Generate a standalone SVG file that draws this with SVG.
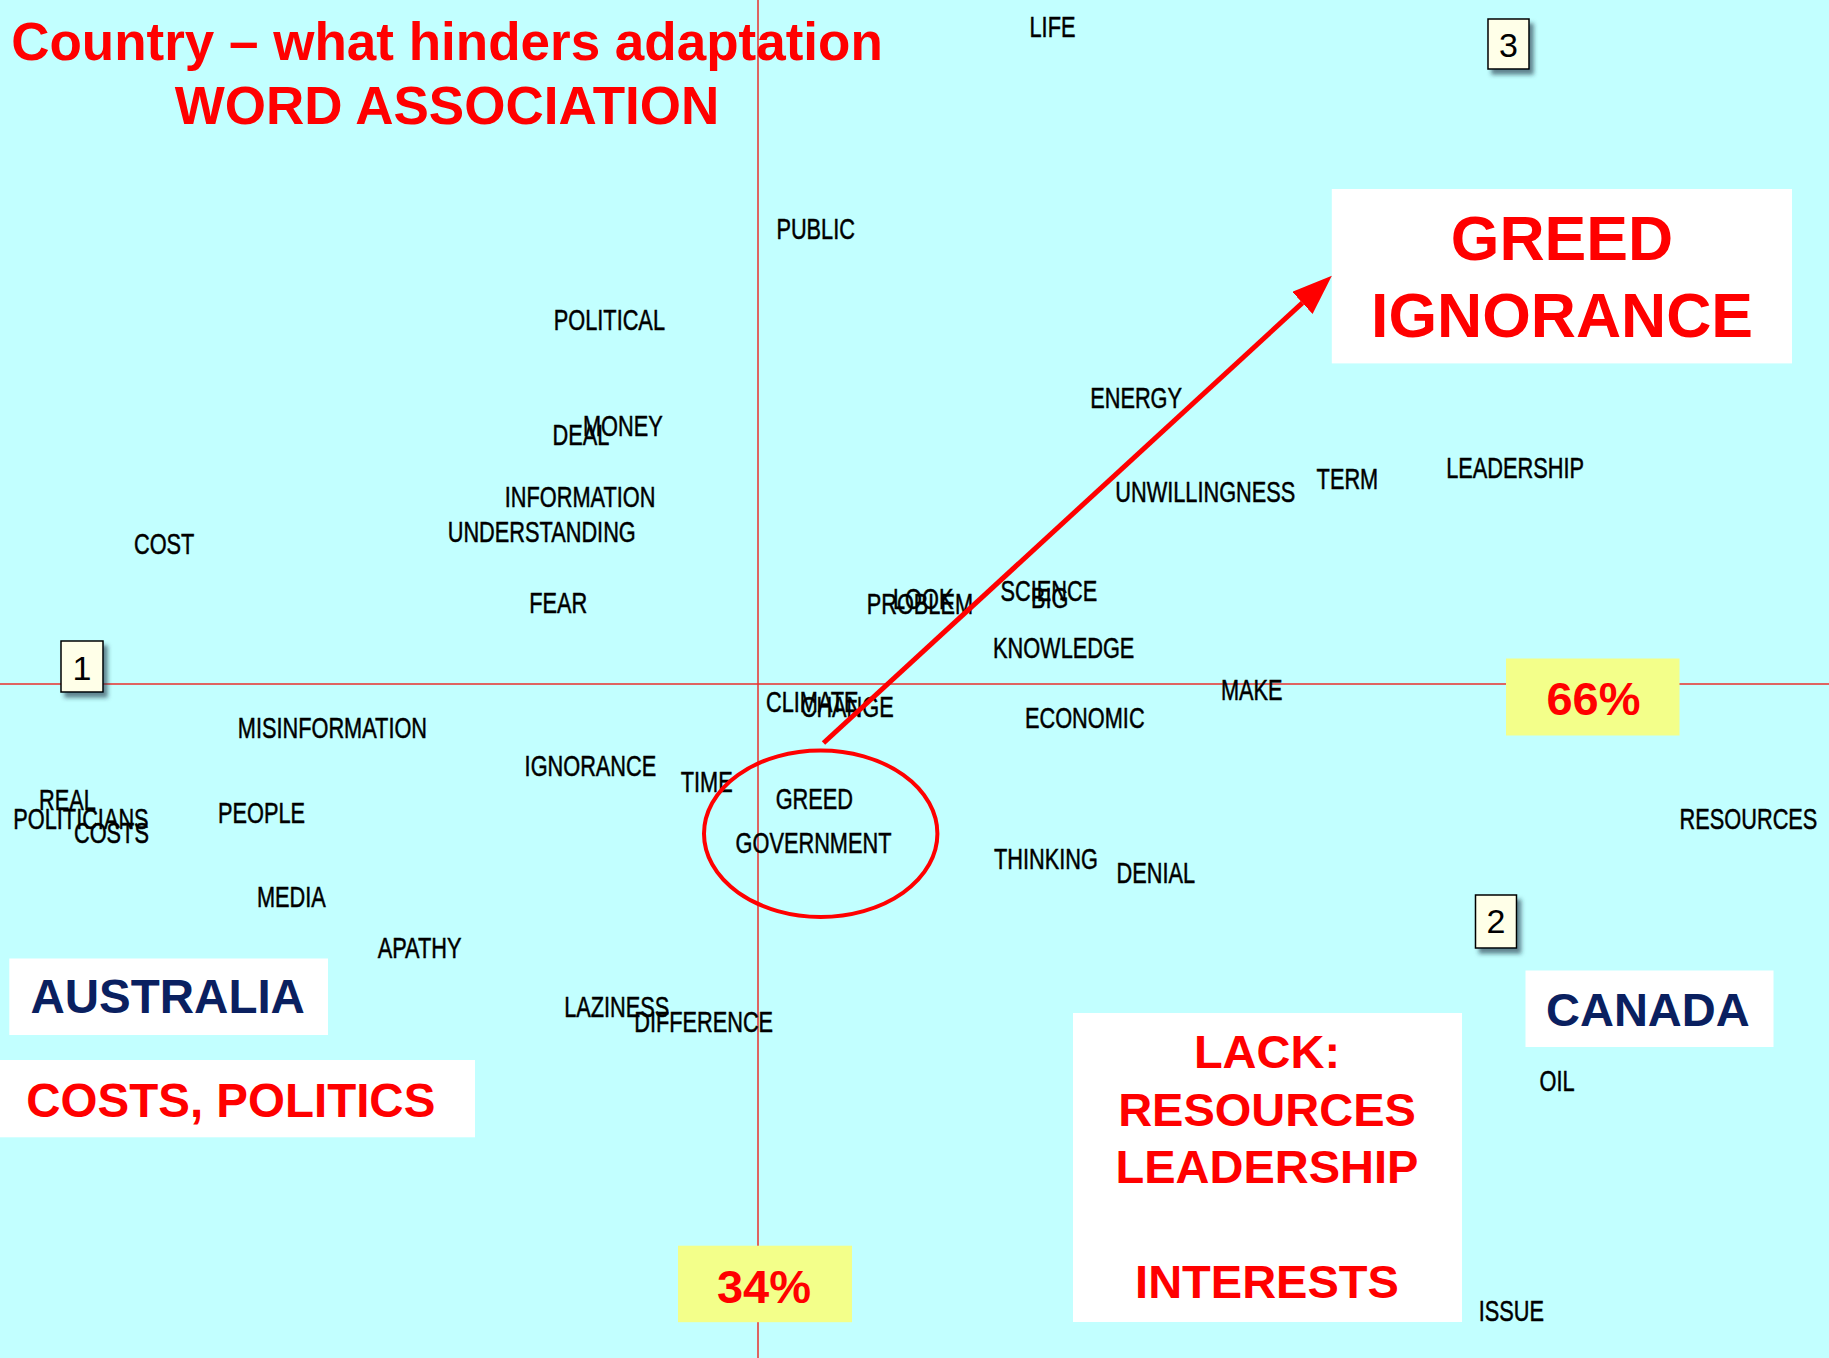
<svg xmlns="http://www.w3.org/2000/svg" width="1829" height="1358" viewBox="0 0 1829 1358">
<defs>
<style>
.lbl{font-family:"Liberation Sans",Arial,sans-serif;font-size:29px;fill:#000;stroke:#000;stroke-width:0.5}
.ttl{font-family:"Liberation Sans",Arial,sans-serif;font-weight:bold;fill:#ff0000}
.nav{font-family:"Liberation Sans",Arial,sans-serif;font-weight:bold;fill:#0a2060}
.wbox{fill:#ffffff}
.ybox{fill:#f3ff8a}
.nbox{fill:#ffffe8;stroke:#000;stroke-width:1.5;filter:url(#sh)}
.num{font-family:"Liberation Sans",Arial,sans-serif;font-size:34px;fill:#000;text-anchor:middle}
.axis{stroke:#e8302c;stroke-width:1.5}
</style>
<filter id="sh" x="-30%" y="-30%" width="160%" height="160%">
<feDropShadow dx="4" dy="5" stdDeviation="2" flood-color="#223344" flood-opacity="0.6"/>
</filter>
<marker id="ah" markerWidth="8" markerHeight="6" refX="0" refY="3" orient="auto" markerUnits="strokeWidth">
<path d="M0,0 L8,3 L0,6 z" fill="#ff0000"/>
</marker>
</defs>
<rect x="0" y="0" width="1829" height="1358" fill="#c2ffff"/>
<g id="axes">
<line class="axis" x1="758" y1="0" x2="758" y2="1358"/>
<line class="axis" x1="0" y1="684" x2="1829" y2="684"/>
</g>
<g id="title">
<text class="ttl" x="447" y="60" font-size="53" text-anchor="middle">Country – what hinders adaptation</text>
<text class="ttl" x="447" y="123.5" font-size="53" text-anchor="middle">WORD ASSOCIATION</text>
</g>
<g id="labels">
<g id="w-life"><text class="lbl" transform="translate(1029.5 36.5) scale(0.75 1)">LIFE</text></g>
<g id="w-public"><text class="lbl" transform="translate(776.4 239.4) scale(0.75 1)">PUBLIC</text></g>
<g id="w-political"><text class="lbl" transform="translate(553.8 329.6) scale(0.75 1)">POLITICAL</text></g>
<g id="w-deal"><text class="lbl" transform="translate(552.6 444.5) scale(0.75 1)">DEAL</text></g>
<g id="w-money"><text class="lbl" transform="translate(583 436) scale(0.75 1)">MONEY</text></g>
<g id="w-information"><text class="lbl" transform="translate(504.8 506.6) scale(0.75 1)">INFORMATION</text></g>
<g id="w-understanding"><text class="lbl" transform="translate(447.7 542) scale(0.75 1)">UNDERSTANDING</text></g>
<g id="w-cost"><text class="lbl" transform="translate(134 554.3) scale(0.75 1)">COST</text></g>
<g id="w-fear"><text class="lbl" transform="translate(529.3 612.8) scale(0.75 1)">FEAR</text></g>
<g id="w-energy"><text class="lbl" transform="translate(1090.2 407.7) scale(0.75 1)">ENERGY</text></g>
<g id="w-unwillingness"><text class="lbl" transform="translate(1115.3 502.2) scale(0.75 1)">UNWILLINGNESS</text></g>
<g id="w-term"><text class="lbl" transform="translate(1316.6 489.2) scale(0.75 1)">TERM</text></g>
<g id="w-leadership"><text class="lbl" transform="translate(1446.2 478) scale(0.75 1)">LEADERSHIP</text></g>
<g id="w-problem"><text class="lbl" transform="translate(866.7 614) scale(0.75 1)">PROBLEM</text></g>
<g id="w-look"><text class="lbl" transform="translate(893 609) scale(0.75 1)">LOOK</text></g>
<g id="w-science"><text class="lbl" transform="translate(1000.5 601) scale(0.75 1)">SCIENCE</text></g>
<g id="w-big"><text class="lbl" transform="translate(1031 608) scale(0.75 1)">BIG</text></g>
<g id="w-knowledge"><text class="lbl" transform="translate(993 658.4) scale(0.75 1)">KNOWLEDGE</text></g>
<g id="w-make"><text class="lbl" transform="translate(1221 700) scale(0.75 1)">MAKE</text></g>
<g id="w-climate"><text class="lbl" transform="translate(766 711.7) scale(0.75 1)">CLIMATE</text></g>
<g id="w-change"><text class="lbl" transform="translate(800.7 716.7) scale(0.75 1)">CHANGE</text></g>
<g id="w-economic"><text class="lbl" transform="translate(1025 728.4) scale(0.75 1)">ECONOMIC</text></g>
<g id="w-misinformation"><text class="lbl" transform="translate(237.8 737.5) scale(0.75 1)">MISINFORMATION</text></g>
<g id="w-ignorance"><text class="lbl" transform="translate(524.6 776) scale(0.75 1)">IGNORANCE</text></g>
<g id="w-time"><text class="lbl" transform="translate(680.8 791.6) scale(0.75 1)">TIME</text></g>
<g id="w-greed"><text class="lbl" transform="translate(775.7 809.3) scale(0.75 1)">GREED</text></g>
<g id="w-government"><text class="lbl" transform="translate(735.6 853) scale(0.75 1)">GOVERNMENT</text></g>
<g id="w-real"><text class="lbl" transform="translate(39 810) scale(0.75 1)">REAL</text></g>
<g id="w-politicians"><text class="lbl" transform="translate(13.3 829.3) scale(0.75 1)">POLITICIANS</text></g>
<g id="w-costs"><text class="lbl" transform="translate(74 843.3) scale(0.75 1)">COSTS</text></g>
<g id="w-people"><text class="lbl" transform="translate(218 823.3) scale(0.75 1)">PEOPLE</text></g>
<g id="w-resources"><text class="lbl" transform="translate(1679.6 829.2) scale(0.75 1)">RESOURCES</text></g>
<g id="w-thinking"><text class="lbl" transform="translate(994 868.5) scale(0.75 1)">THINKING</text></g>
<g id="w-denial"><text class="lbl" transform="translate(1116.5 883.2) scale(0.75 1)">DENIAL</text></g>
<g id="w-media"><text class="lbl" transform="translate(257 907) scale(0.75 1)">MEDIA</text></g>
<g id="w-apathy"><text class="lbl" transform="translate(377.7 957.6) scale(0.75 1)">APATHY</text></g>
<g id="w-laziness"><text class="lbl" transform="translate(564.2 1017.3) scale(0.75 1)">LAZINESS</text></g>
<g id="w-difference"><text class="lbl" transform="translate(634.2 1032.4) scale(0.75 1)">DIFFERENCE</text></g>
<g id="w-oil"><text class="lbl" transform="translate(1539.5 1090.8) scale(0.75 1)">OIL</text></g>
<g id="w-issue"><text class="lbl" transform="translate(1478.8 1320.8) scale(0.75 1)">ISSUE</text></g>
</g>
<g id="box-1"><rect class="nbox" x="61" y="641" width="42" height="51"/><text class="num" x="82" y="680">1</text></g>
<g id="box-2"><rect class="nbox" x="1475.5" y="895" width="41" height="53"/><text class="num" x="1496" y="933">2</text></g>
<g id="box-3"><rect class="nbox" x="1488" y="19" width="41" height="50"/><text class="num" x="1508.5" y="56.5">3</text></g>
<g id="pct-66"><rect class="ybox" x="1506" y="658.5" width="173.5" height="77"/><text class="ttl" x="1593.5" y="714.5" font-size="47" text-anchor="middle">66%</text></g>
<g id="pct-34"><rect class="ybox" x="678" y="1245.7" width="174" height="76.5"/><text class="ttl" x="764" y="1302.7" font-size="47" text-anchor="middle">34%</text></g>
<g id="australia"><rect class="wbox" x="9.3" y="958.5" width="318.7" height="76.5"/><text class="nav" x="30.5" y="1013" font-size="47.5">AUSTRALIA</text></g>
<g id="costs-politics"><rect class="wbox" x="0" y="1060" width="475" height="77.3"/><text class="ttl" x="26.3" y="1116.7" font-size="47.5">COSTS, POLITICS</text></g>
<g id="canada"><rect class="wbox" x="1525.5" y="970.5" width="248" height="76.5"/><text class="nav" x="1546" y="1026" font-size="47">CANADA</text></g>
<g id="lack"><rect class="wbox" x="1073" y="1013" width="389" height="309"/>
<text class="ttl" x="1267" y="1068.3" font-size="47" text-anchor="middle">LACK:</text>
<text class="ttl" x="1267" y="1125.5" font-size="47" text-anchor="middle">RESOURCES</text>
<text class="ttl" x="1267" y="1183" font-size="47" text-anchor="middle">LEADERSHIP</text>
<text class="ttl" x="1267" y="1297.5" font-size="47" text-anchor="middle">INTERESTS</text>
</g>
<g id="greed-ignorance"><rect class="wbox" x="1331.8" y="189" width="460.2" height="174.4"/>
<text class="ttl" x="1562" y="260.2" font-size="62.5" text-anchor="middle">GREED</text>
<text class="ttl" x="1562" y="337.4" font-size="62.5" text-anchor="middle">IGNORANCE</text>
</g>
<g id="connectors">
<ellipse cx="820.7" cy="833.7" rx="116.7" ry="83.2" fill="none" stroke="#ff0000" stroke-width="4"/>
<line x1="823.5" y1="743" x2="1302.4" y2="302.9" stroke="#ff0000" stroke-width="5" marker-end="url(#ah)"/>
</g>
</svg>
